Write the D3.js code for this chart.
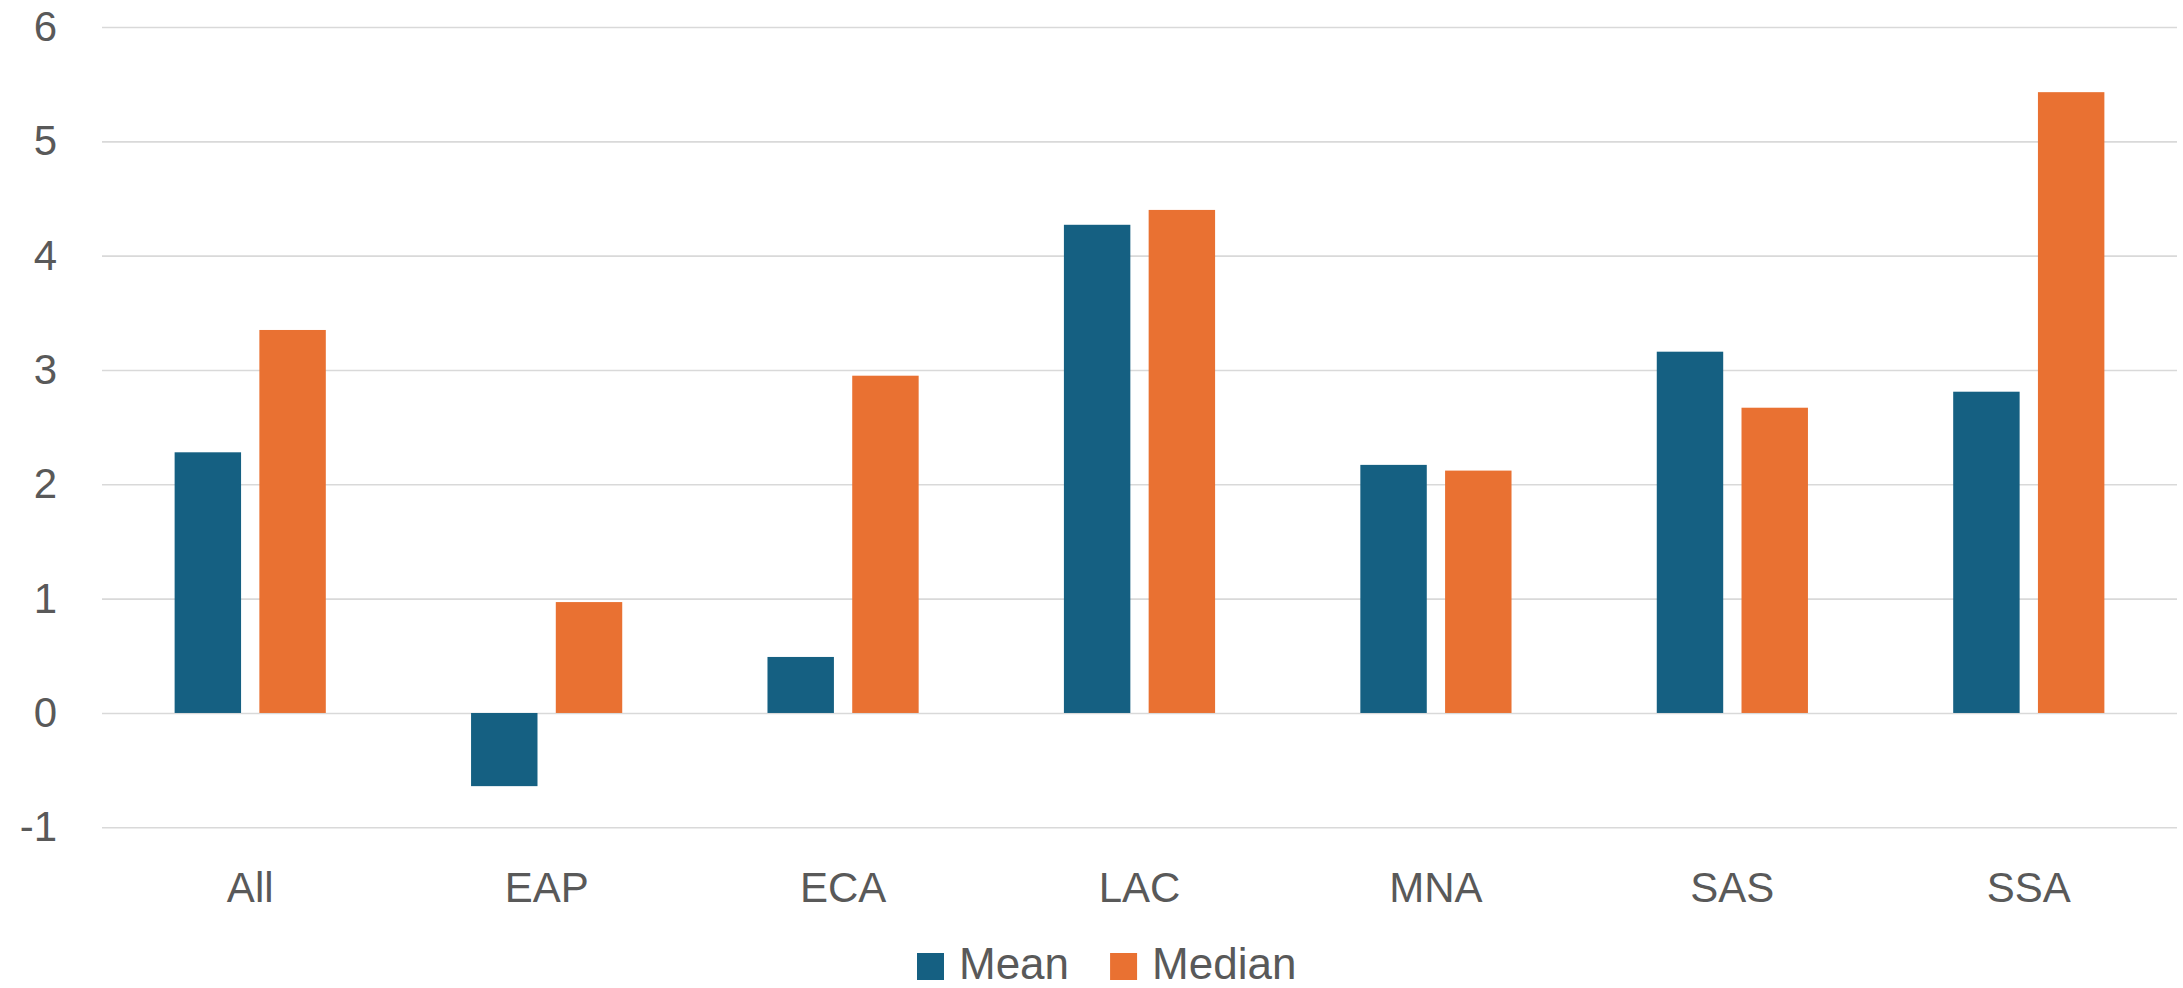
<!DOCTYPE html>
<html>
<head>
<meta charset="utf-8">
<script src="https://cdn.jsdelivr.net/npm/d3@7/dist/d3.min.js"></script>
<style>
  body { margin: 0; background: #fff; }
  svg { display: block; font-family: "Liberation Sans", Arial, sans-serif; }
</style>
</head>
<body>
<svg id="chart"></svg>
<script>
let categories = ['All', 'EAP', 'ECA', 'LAC', 'MNA', 'SAS', 'SSA'];
let series = ['Mean', 'Median'];
let meanValues = [2.28, -0.64, 0.49, 4.27, 2.17, 3.16, 2.81];
let medianValues = [3.35, 0.97, 2.95, 4.40, 2.12, 2.67, 5.43];
let yTicks = [-1, 0, 1, 2, 3, 4, 5, 6];
let colors = ['#156082', '#e97132'];

let width = 2183;
let height = 988;
let plotLeft = 102;
let plotRight = 2177;
let plotTop = 27;
let plotBottom = 827.3;
let textColor = '#595959';
let fontSize = 42;

let svg = d3.select('#chart')
  .attr('width', width)
  .attr('height', height);

let x0 = d3.scaleBand()
  .domain(categories)
  .range([plotLeft, plotRight])
  .paddingInner(0.49)
  .paddingOuter(0.245);

let x1 = d3.scaleBand()
  .domain(series)
  .range([0, x0.bandwidth()])
  .paddingInner(0.216);

let y = d3.scaleLinear()
  .domain([-1, 6])
  .range([plotBottom, plotTop]);

// gridlines + y labels
let yAxis = d3.axisLeft(y)
  .tickValues(yTicks)
  .tickFormat(d => String(d))
  .tickSize(-(plotRight - plotLeft))
  .tickPadding(45);

let gy = svg.append('g')
  .attr('transform', 'translate(' + plotLeft + ',0)')
  .call(yAxis);
gy.select('.domain').remove();
gy.selectAll('.tick line')
  .attr('stroke', '#d9d9d9')
  .attr('stroke-width', 1.6);
gy.selectAll('.tick text')
  .attr('fill', textColor)
  .style('font-size', fontSize + 'px');

// bars
let rows = categories.map((c, i) => ({ cat: c, values: [meanValues[i], medianValues[i]] }));

let groups = svg.append('g').selectAll('g')
  .data(rows)
  .enter()
  .append('g')
  .attr('transform', d => 'translate(' + x0(d.cat) + ',0)');

groups.selectAll('rect')
  .data(d => d.values.map((v, j) => ({ key: series[j], value: v, idx: j })))
  .enter()
  .append('rect')
  .attr('x', d => x1(d.key))
  .attr('width', x1.bandwidth())
  .attr('y', d => y(Math.max(0, d.value)))
  .attr('height', d => Math.abs(y(d.value) - y(0)))
  .attr('fill', d => colors[d.idx]);

// category labels
let xAxis = d3.axisBottom(x0)
  .tickSize(0)
  .tickPadding(45);

let gx = svg.append('g')
  .attr('transform', 'translate(0,' + plotBottom + ')')
  .call(xAxis);
gx.select('.domain').remove();
gx.selectAll('.tick text')
  .attr('fill', textColor)
  .style('font-size', fontSize + 'px');

// legend
let legend = svg.append('g')
  .attr('transform', 'translate(917,953)');
let box = 27;
let offset = 0;
series.forEach((s, i) => {
  let item = legend.append('g').attr('transform', 'translate(' + offset + ',0)');
  item.append('rect')
    .attr('width', box)
    .attr('height', box)
    .attr('fill', colors[i]);
  let t = item.append('text')
    .attr('x', box + 15)
    .attr('y', 26)
    .attr('fill', textColor)
    .style('font-size', '44px')
    .text(s);
  offset += box + 15 + t.node().getComputedTextLength() + 41;
});
</script>
</body>
</html>
